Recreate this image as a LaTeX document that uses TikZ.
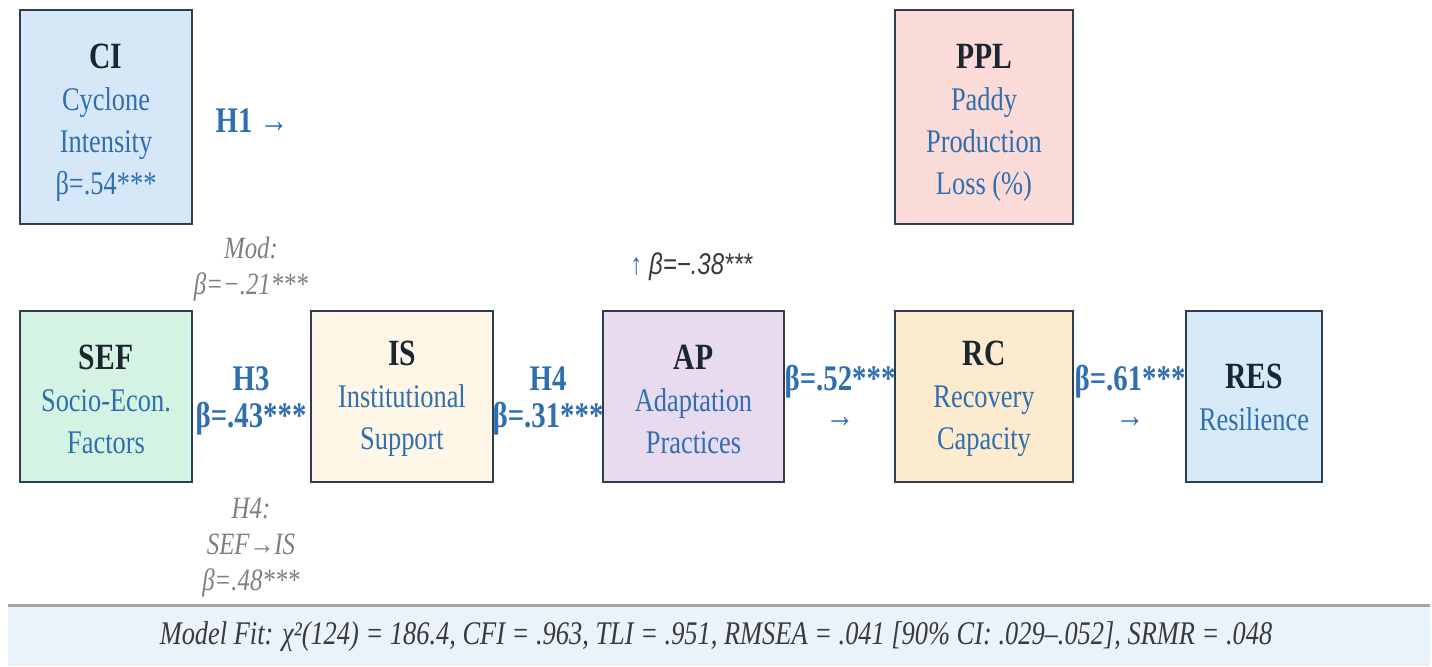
\documentclass[tikz,border=0pt]{standalone}
\usepackage{fontspec}
\setmainfont{Liberation Serif}[FakeStretch=0.8]
\newfontfamily\sansit{Liberation Sans}[FakeStretch=0.8]
\definecolor{navy}{HTML}{1B2631}
\definecolor{edge}{HTML}{2C3E50}
\definecolor{tblue}{HTML}{2F6EAF}
\definecolor{tgray}{HTML}{7F7F7F}
\definecolor{dgray}{HTML}{3A3A3A}
\definecolor{fci}{HTML}{D6E8F7}
\definecolor{fppl}{HTML}{FADBD8}
\definecolor{fsef}{HTML}{D4F3E2}
\definecolor{fis}{HTML}{FEF6E6}
\definecolor{fap}{HTML}{E8DAEF}
\definecolor{frc}{HTML}{FDEBD0}
\definecolor{fres}{HTML}{D6EAF8}
\definecolor{band}{HTML}{EAF2FA}
\definecolor{bandline}{HTML}{A6A6A6}
\tikzset{
  box/.style={draw=edge, line width=1.2pt, inner sep=0pt, outer sep=0pt,
    align=center, text=tblue, font=\fontsize{16.5}{21}\selectfont},
  lab/.style={align=center, text=tblue, inner sep=0pt,
    font=\bfseries\fontsize{18}{18.5}\selectfont},
  note/.style={align=center, text=tgray, inner sep=0pt,
    font=\itshape\fontsize{15.5}{18}\selectfont},
}
\newcommand{\boxttl}[2]{{\color{navy}\bfseries\fontsize{18.5}{21}\selectfont\rule{0pt}{#1}#2}}
\begin{document}
\begin{tikzpicture}[x=0.5pt,y=-0.5pt]
\useasboundingbox (0,0) rectangle (1432,666);
% bottom band
\fill[band] (8,607) rectangle (1430,666);
\draw[bandline, line width=1.5pt] (8,605.5) -- (1430,605.5);
\node[inner sep=0pt, text=dgray, font=\itshape\fontsize{16.5}{18}\selectfont] (fit) at (716,637)
  {Model Fit: χ²(124) = 186.4, CFI = .963, TLI = .951, RMSEA = .041 [90\% CI: .029–.052], SRMR = .048};
% boxes
\node[box, fill=fci, minimum width=86pt, minimum height=107pt] (ci) at (106,117)
  {\boxttl{18pt}{CI}\\Cyclone\\Intensity\\β=.54***};
\node[box, fill=fppl, minimum width=89pt, minimum height=107pt] (ppl) at (984,117)
  {\boxttl{18pt}{PPL}\\Paddy\\Production\\Loss (\%)};
\node[box, fill=fsef, minimum width=86pt, minimum height=85.5pt] (sef) at (106,396.5)
  {\boxttl{15pt}{SEF}\\Socio-Econ.\\Factors};
\node[box, fill=fis, minimum width=91pt, minimum height=85.5pt] (is) at (402,396.5)
  {\boxttl{15pt}{IS}\\Institutional\\Support};
\node[box, fill=fap, minimum width=90.5pt, minimum height=85.5pt] (ap) at (693.5,396.5)
  {\boxttl{15pt}{AP}\\Adaptation\\Practices};
\node[box, fill=frc, minimum width=89pt, minimum height=85.5pt] (rc) at (984,396.5)
  {\boxttl{15pt}{RC}\\Recovery\\Capacity};
\node[box, fill=fres, minimum width=68pt, minimum height=85.5pt] (res) at (1254,396.5)
  {\boxttl{13pt}{RES}\\Resilience};
% labels
\node[lab, anchor=base] (h1) at (252,132) {H1 {\mdseries →}};
\node[lab, anchor=base] (h3) at (251,427) {H3\\β=.43***};
\node[lab, anchor=base] (h4) at (548,427) {H4\\β=.31***};
\node[lab, anchor=base] (b52) at (840,427) {β=.52***\\{\mdseries →}};
\node[lab, anchor=base] (b61) at (1130,427) {β=.61***\\{\mdseries →}};
\node[note, anchor=base] (mod) at (251,294) {Mod:\\β=−.21***};
\node[note, anchor=base] (h4n) at (251,590) {H4:\\SEF→IS\\β=.48***};
\node[inner sep=0pt, anchor=base west, text=dgray, font=\sansit\itshape\fontsize{15}{17}\selectfont] (b38) at (630,274)
  {{\color{tblue}\upshape ↑} β=−.38***};
\end{tikzpicture}
\end{document}
